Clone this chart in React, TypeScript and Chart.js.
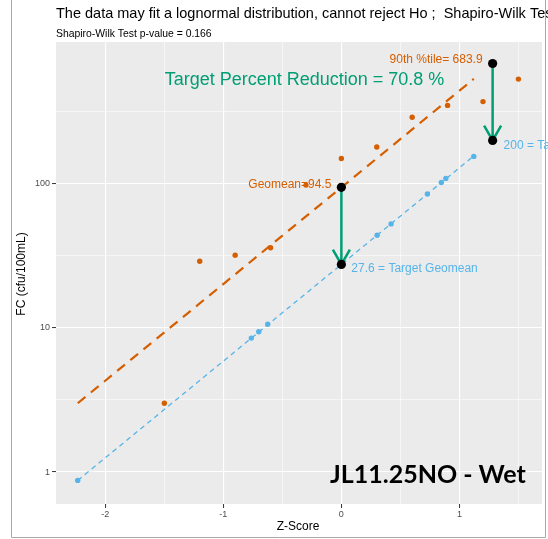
import { useEffect, useRef } from "react";
import { Chart, registerables } from "chart.js";

Chart.register(...registerables);

// Observed samples (normal scores vs FC)
const observedZ = [-1.5, -1.2, -0.9, -0.6, -0.3, 0, 0.3, 0.6, 0.9, 1.2, 1.5];
const observedFC = [3.0, 29, 32, 36, 98, 150, 180, 290, 350, 372, 533];

// Target distribution points
const targetZ = [-2.234, -0.763, -0.7, -0.624, 0.303, 0.421, 0.729, 0.847, 0.885, 1.122];
const targetFC = [0.875, 8.5, 9.4, 10.6, 44, 52.7, 85, 102, 109, 155];

// Fitted lognormal lines (end points)
const fitZ = [-2.234, 1.122];
const observedFit = [3.0, 534];
const targetFit = [0.875, 156];

// Summary statistics: geomean at z = 0, 90th percentile at z = 1.2816
const summaryZ = [0, 1.2816];
const observedSummary = [94.5, 683.9];
const targetSummary = [27.6, 200];

const xTicks = [-2, -1.5, -1, -0.5, 0, 0.5, 1, 1.5];
const xMajor = [-2, -1, 0, 1];
const yTicks = [1, 3.1623, 10, 31.623, 100, 316.23];
const yMajor = [1, 10, 100];

const ORANGE = "#D55E00";
const BLUE = "#56B4E9";
const GREEN = "#009E73";
const SANS = "'Liberation Sans', Arial, sans-serif";

const pts = (xs: number[], ys: number[]) => xs.map((x, i) => ({ x, y: ys[i] }));

export default function App() {
  const ref = useRef<HTMLCanvasElement>(null);

  useEffect(() => {
    document.body.style.margin = "0";
    const canvas = ref.current!;

    const decor = {
      id: "decor",
      beforeDraw(chart: any) {
        const { ctx, chartArea: a } = chart;
        ctx.save();
        ctx.fillStyle = "#EBEBEB";
        ctx.fillRect(a.left, a.top, a.right - a.left, a.bottom - a.top);
        ctx.restore();
      },
      afterDatasetDraw(chart: any, args: any) {
        if (args.index !== 3) return;
        const { ctx, scales } = chart;
        const x = scales.x, y = scales.y;
        ctx.save();
        ctx.strokeStyle = GREEN;
        ctx.lineWidth = 2.5;
        ctx.lineCap = "butt";
        ctx.lineJoin = "miter";
        summaryZ.forEach((z, i) => {
          const px = x.getPixelForValue(z);
          const y1 = y.getPixelForValue(observedSummary[i]);
          const y2 = y.getPixelForValue(targetSummary[i]);
          ctx.beginPath();
          ctx.moveTo(px, y1);
          ctx.lineTo(px, y2);
          ctx.stroke();
          const len = 17, ang = Math.PI / 6;
          ctx.beginPath();
          ctx.moveTo(px - len * Math.sin(ang), y2 - len * Math.cos(ang));
          ctx.lineTo(px, y2);
          ctx.lineTo(px + len * Math.sin(ang), y2 - len * Math.cos(ang));
          ctx.stroke();
        });
        ctx.restore();
      },
      afterDraw(chart: any) {
        const { ctx, scales } = chart;
        const x = scales.x, y = scales.y;
        ctx.save();
        // point labels
        ctx.font = `12px ${SANS}`;
        ctx.textBaseline = "middle";
        ctx.fillStyle = ORANGE;
        ctx.textAlign = "right";
        ctx.fillText(`Geomean=${observedSummary[0]}`, x.getPixelForValue(summaryZ[0]) - 10, y.getPixelForValue(observedSummary[0]) - 3);
        ctx.fillText(`90th %tile= ${observedSummary[1]}`, x.getPixelForValue(summaryZ[1]) - 10, y.getPixelForValue(observedSummary[1]) - 4);
        ctx.fillStyle = BLUE;
        ctx.textAlign = "left";
        ctx.fillText(`${targetSummary[0]} = Target Geomean`, x.getPixelForValue(summaryZ[0]) + 10, y.getPixelForValue(targetSummary[0]) + 4);
        ctx.fillText(`${targetSummary[1]} = Target 90th %tile`, x.getPixelForValue(summaryZ[1]) + 11, y.getPixelForValue(targetSummary[1]) + 5);

        // reduction annotation
        ctx.fillStyle = GREEN;
        ctx.textAlign = "center";
        ctx.font = `18px ${SANS}`;
        ctx.fillText("Target Percent Reduction = 70.8 %", 304.5, 80);

        // station label
        ctx.fillStyle = "#000000";
        ctx.textAlign = "left";
        ctx.textBaseline = "alphabetic";
        ctx.font = `bold 25px Lato, 'Open Sans', sans-serif`;
        ctx.fillText("JL11.25NO - Wet", 330, 483);

        // titles
        ctx.font = `14.5px ${SANS}`;
        ctx.textBaseline = "middle";
        ctx.fillText("The data may fit a lognormal distribution, cannot reject Ho ;  Shapiro-Wilk Test p-value > 0.05", 56, 14);
        ctx.font = `10.4px ${SANS}`;
        ctx.fillText("Shapiro-Wilk Test p-value = 0.166", 56, 34);

        // axis titles
        ctx.font = `12px ${SANS}`;
        ctx.textAlign = "center";
        ctx.fillText("Z-Score", 298, 527);
        ctx.translate(22, 274);
        ctx.rotate(-Math.PI / 2);
        ctx.fillText("FC (cfu/100mL)", 0, 0);
        ctx.restore();

        // outer frame
        ctx.save();
        ctx.strokeStyle = "#A8A8A8";
        ctx.lineWidth = 1;
        ctx.beginPath();
        ctx.moveTo(11.5, 0);
        ctx.lineTo(11.5, 537.5);
        ctx.lineTo(545.5, 537.5);
        ctx.lineTo(545.5, 0);
        ctx.stroke();
        ctx.restore();
      },
    };

    const chart = new Chart(canvas, {
      type: "scatter",
      data: {
        datasets: [
          {
            label: "observed fit",
            type: "line",
            data: pts(fitZ, observedFit),
            borderColor: ORANGE,
            borderWidth: 2.2,
            borderDash: [10, 7],
            pointRadius: 0,
            fill: false,
            order: 6,
          },
          {
            label: "target fit",
            type: "line",
            data: pts(fitZ, targetFit),
            borderColor: BLUE,
            borderWidth: 1.3,
            borderDash: [5, 4],
            pointRadius: 0,
            fill: false,
            order: 5,
          },
          {
            label: "observed",
            data: pts(observedZ, observedFC),
            backgroundColor: ORANGE,
            borderWidth: 0,
            pointRadius: 2.7,
            order: 4,
          },
          {
            label: "target",
            data: pts(targetZ, targetFC),
            backgroundColor: BLUE,
            borderWidth: 0,
            pointRadius: 2.7,
            order: 3,
          },
          {
            label: "summary",
            data: [
              ...pts(summaryZ, observedSummary),
              ...pts(summaryZ, targetSummary),
            ],
            backgroundColor: "#000000",
            borderWidth: 0,
            pointRadius: 4.6,
            order: 1,
          },
        ],
      },
      options: {
        animation: false,
        responsive: false,
        devicePixelRatio: 1,
        layout: { padding: { left: 0, right: 6, top: 42, bottom: 0 } },
        plugins: {
          legend: { display: false },
          tooltip: { enabled: false },
        },
        scales: {
          x: {
            type: "linear",
            min: -2.418,
            max: 1.7,
            afterBuildTicks: (s: any) => {
              s.ticks = xTicks.map((v) => ({ value: v }));
            },
            afterFit: (s: any) => {
              s.height = 35;
            },
            border: { display: false },
            grid: {
              color: "#FFFFFF",
              lineWidth: (c: any) => (xMajor.includes(c.tick?.value) ? 1.1 : 0.55),
              tickColor: (c: any) => (xMajor.includes(c.tick?.value) ? "#333333" : "rgba(0,0,0,0)"),
              tickWidth: 1,
              tickLength: 4,
            },
            ticks: {
              autoSkip: false,
              maxRotation: 0,
              padding: 1.5,
              color: "#4D4D4D",
              font: { family: SANS, size: 9 },
              callback: (v: any) => (xMajor.includes(Number(v)) ? String(v) : ""),
            },
          },
          y: {
            type: "logarithmic",
            min: 0.631,
            max: 964,
            afterBuildTicks: (s: any) => {
              s.ticks = yTicks.map((v) => ({ value: v }));
            },
            afterFit: (s: any) => {
              s.width = 56;
            },
            border: { display: false },
            grid: {
              color: "#FFFFFF",
              lineWidth: (c: any) => (yMajor.includes(c.tick?.value) ? 1.1 : 0.55),
              tickColor: (c: any) => (yMajor.includes(c.tick?.value) ? "#333333" : "rgba(0,0,0,0)"),
              tickWidth: 1,
              tickLength: 4,
            },
            ticks: {
              autoSkip: false,
              padding: 2,
              color: "#4D4D4D",
              font: { family: SANS, size: 9 },
              callback: (v: any) => (yMajor.includes(Number(v)) ? String(v) : ""),
            },
          },
        },
      },
      plugins: [decor],
    } as any);

    return () => chart.destroy();
  }, []);

  return (
    <div style={{ width: 548, height: 539 }}>
      <canvas ref={ref} width={548} height={539} style={{ display: "block" }} />
    </div>
  );
}
